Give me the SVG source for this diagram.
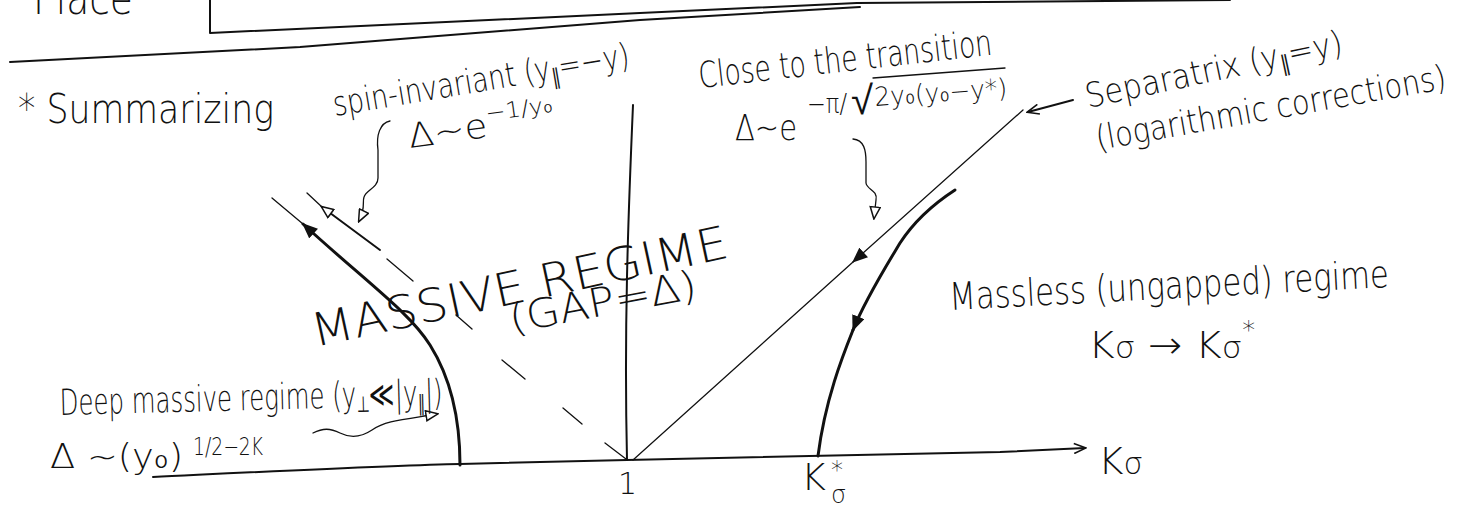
<svg xmlns="http://www.w3.org/2000/svg" width="1474" height="506" viewBox="0 0 1474 506">
<defs>
<style>
text { font-family: "DejaVu Sans", "Liberation Sans", sans-serif; font-weight: 200; fill: #111; }
.ln { fill: none; stroke: #111; stroke-linecap: round; stroke-linejoin: round; }
.thin { stroke-width: 1.3; }
.med { stroke-width: 2; }
.thick { stroke-width: 3; }
</style>
<marker id="triF" viewBox="0 0 12 10" refX="11" refY="5" markerWidth="16" markerHeight="13" markerUnits="userSpaceOnUse" orient="auto"><path d="M0,0 L12,5 L0,10 z" fill="#111"/></marker>
<marker id="triO" viewBox="-1 -1 14 12" refX="11" refY="5" markerWidth="14" markerHeight="12" markerUnits="userSpaceOnUse" orient="auto"><path d="M0,0 L12,5 L0,10 z" fill="#fff" stroke="#111" stroke-width="1.5"/></marker>
<marker id="vee" viewBox="-1 -1 14 12" refX="11" refY="5" markerWidth="14" markerHeight="12" markerUnits="userSpaceOnUse" orient="auto"><path d="M0,0 L12,5 L0,10" fill="none" stroke="#111" stroke-width="1.6"/></marker>
</defs>
<rect width="1474" height="506" fill="#fff"/>

<g id="connectors">
  <path class="ln med" d="M210,0 L210,33 L640,13 L857,3 L1230,0"/>
  <path class="ln med" d="M10,62 L300,47 L640,20 L860,7"/>
  <path class="ln med" d="M153,477 C300,470 400,465 460,464 L627,460 L1000,452 L1085,448" marker-end="url(#vee)"/>
  <path class="ln med" d="M633,105 C628,220 624,330 627,460"/>
  <path class="ln thin" d="M1023,110 L853,262" marker-end="url(#triF)"/>
  <path class="ln thin" d="M853,262 L633,460"/>
  <path class="ln thick" d="M955,190 C935,203 915,220 900,243 C885,268 865,300 853,330" marker-end="url(#triF)"/>
  <path class="ln thick" d="M853,330 C843,355 825,400 818,456"/>
  <path class="ln thick" d="M460,465 C460,420 452,380 430,345 C410,313 370,285 303,224" marker-end="url(#triF)"/>
  <path class="ln thin" d="M303,224 L272,198"/>
  <path class="ln med" d="M380,250 L322,207" marker-end="url(#triO)"/>
  <path class="ln thin" d="M322,207 L307,193"/>
  <path class="ln thin" d="M387,259 L413,281 M456,315 L472,329 M502,360 L525,379 M563,408 L582,424 M605,443 L626,459"/>
  <path class="ln thin" d="M390,121 C380,123 376,135 378,150 L378,178 C378,188 366,190 364,197 C362,203 366,207 359,221" marker-end="url(#triO)"/>
  <path class="ln thin" d="M853,139 C864,140 866,150 866,162 L866,183 C867,190 878,190 876,200 L874,218" marker-end="url(#triO)"/>
  <path class="ln thin" d="M313,433 C323,428 330,428 340,433 C350,438 360,438 372,430 C385,421 400,420 437,414" marker-end="url(#triO)"/>
  <path class="ln med" d="M1073,100 L1028,112" marker-end="url(#vee)"/>
</g>

<g id="n-header"><text x="33" y="14" font-size="44" textLength="100" lengthAdjust="spacingAndGlyphs">Place</text></g>
<g id="n-summarizing"><text x="18" y="123" font-size="40" textLength="256" lengthAdjust="spacingAndGlyphs">* Summarizing</text></g>
<g id="n-spin">
  <text transform="translate(335,116) rotate(-9.5)" font-size="34" textLength="300" lengthAdjust="spacingAndGlyphs">spin-invariant (y<tspan font-size="22" dy="5">∥</tspan><tspan dy="-5">=−y)</tspan></text>
  <text transform="translate(410,148) rotate(-8)" font-size="34" textLength="147" lengthAdjust="spacingAndGlyphs">Δ~e<tspan font-size="22" dy="-16">−1/y₀</tspan></text>
</g>
<g id="n-transition">
  <text transform="translate(700,88) rotate(-6.5)" font-size="36" textLength="295" lengthAdjust="spacingAndGlyphs">Close to the transition</text>
  <text x="735" y="140" font-size="36" textLength="62" lengthAdjust="spacingAndGlyphs">Δ~e</text>
  <text x="807" y="113" font-size="26" textLength="40" lengthAdjust="spacingAndGlyphs">−π/</text>
  <text x="851" y="114" font-size="40">√</text>
  <path class="ln thin" d="M873,78 L1005,68"/>
  <text transform="translate(875,106) rotate(-4)" font-size="26" textLength="133" lengthAdjust="spacingAndGlyphs">2y₀(y₀−y*)</text>
</g>
<g id="n-separatrix">
  <text transform="translate(1088,108) rotate(-12)" font-size="34" textLength="262" lengthAdjust="spacingAndGlyphs">Separatrix (y<tspan font-size="22" dy="5">∥</tspan><tspan dy="-5">=y)</tspan></text>
  <text transform="translate(1098,150) rotate(-10)" font-size="34" textLength="355" lengthAdjust="spacingAndGlyphs">(logarithmic corrections)</text>
</g>
<g id="n-massive">
  <text transform="translate(315,347) rotate(-12.2)" font-size="46" textLength="425" lengthAdjust="spacingAndGlyphs">MASSIVE REGIME</text>
  <text transform="translate(512,333) rotate(-10.7)" font-size="40" textLength="190" lengthAdjust="spacingAndGlyphs">(GAP=Δ)</text>
</g>
<g id="n-massless">
  <text transform="translate(950,310) rotate(-3)" font-size="38" textLength="440" lengthAdjust="spacingAndGlyphs">Massless (ungapped) regime</text>
  <text x="1088" y="358" font-size="38" textLength="167" lengthAdjust="spacingAndGlyphs">K<tspan font-size="30">σ</tspan> → K<tspan font-size="30">σ</tspan><tspan font-size="24" dy="-20">*</tspan></text>
</g>
<g id="n-axis-label"><text x="1098" y="474" font-size="38" textLength="45" lengthAdjust="spacingAndGlyphs">K<tspan font-size="30">σ</tspan></text></g>
<g id="n-kstar">
  <text x="801" y="490" font-size="38">K</text>
  <text x="831" y="503" font-size="24">σ</text>
  <text x="831" y="478" font-size="24">*</text>
</g>
<g id="n-one"><text x="618" y="494" font-size="30">1</text></g>
<g id="n-deep">
  <text transform="translate(60,415) rotate(-1.5)" font-size="36" textLength="383" lengthAdjust="spacingAndGlyphs">Deep massive regime (y<tspan font-size="22" dy="5">⊥</tspan><tspan dy="-5">≪|y</tspan><tspan font-size="22" dy="5">∥</tspan><tspan dy="-5">|)</tspan></text>
  <text x="50" y="468" font-size="34" textLength="133" lengthAdjust="spacingAndGlyphs">Δ ~(y₀)</text>
  <text x="193" y="455" font-size="24" textLength="70" lengthAdjust="spacingAndGlyphs">1/2−2K</text>
</g>
</svg>
